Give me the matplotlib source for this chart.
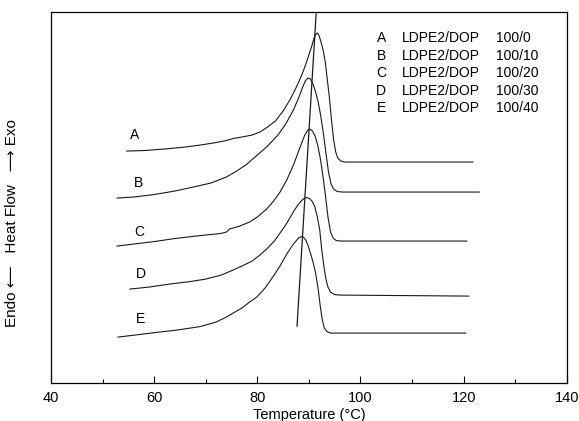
import numpy as np
import matplotlib
matplotlib.use('Agg')
import matplotlib.pyplot as plt

plt.rcParams['font.family'] = ['Liberation Sans', 'DejaVu Sans']

# DSC cooling curves, heat flow in arbitrary units (stacked)
temp_A = [54.7, 58, 62, 66, 69, 72, 74, 75.3, 77, 79, 80.5, 82, 83.5, 85, 86.3, 87.3, 88.2, 89, 89.8,
          90.5, 91.0, 91.4, 91.7, 92.0, 92.4, 92.8, 93.2, 93.6, 94.0, 94.4, 94.8, 95.2, 95.6, 96.2, 97, 121.8]
flow_A = [232, 232.5, 234, 236, 238, 240.5, 242.5, 244.5, 246, 248, 251, 256, 262, 272, 283, 293, 303, 313, 325,
          336, 345, 349, 350, 347, 340, 332, 320, 302, 284, 262, 243, 231, 225, 222, 221, 221]

temp_B = [52.8, 56, 60, 64, 68, 71, 74, 76, 78, 80, 82, 84, 85.5, 87, 88, 88.8, 89.3, 89.8, 90.3,
          90.8, 91.3, 91.8, 92.3, 92.8, 93.3, 93.8, 94.3, 94.8, 95.5, 96.5, 123.0]
flow_B = [185, 186, 188.5, 192, 196.5, 200, 206, 212, 219, 228, 237, 248, 259, 273, 285, 296, 302, 305, 304,
          299, 291, 281, 267, 250, 230, 211, 199, 194, 191.5, 191, 191]

temp_C = [52.8, 56, 60, 64, 68, 72.8, 74.0, 74.6, 76.6, 78.5, 80, 81.8, 83, 84.3, 85.7, 87, 88.3, 89.2,
          89.8, 90.2, 90.7, 91.2, 91.7, 92.2, 92.7, 93.2, 93.7, 94.2, 94.7, 95.3, 96.2, 120.6]
flow_C = [137, 139, 141.5, 144.5, 147, 149.5, 151, 154, 157, 161, 166, 174, 181, 190, 203, 218, 236, 248,
          253, 254, 252, 247, 238, 225, 208, 188, 166, 151, 145, 142.5, 142, 142]

temp_D = [55.3, 59, 63, 67, 70, 73, 75.3, 77, 79, 80.5, 82, 83.3, 84.4, 85.5, 86.4, 87.2, 88, 88.7, 89.2,
          89.6, 90.1, 90.6, 91.1, 91.6, 92.1, 92.5, 92.9, 93.3, 93.7, 94.2, 95, 96, 121.0]
flow_D = [94, 96, 99, 101.5, 104, 108, 113, 117, 122, 128, 135, 142, 150, 158, 166, 173, 179, 183, 185,
          185.5, 184.5, 182, 177, 167, 153, 133, 117, 104, 96, 91, 88.5, 88, 87]

temp_E = [53, 57, 61, 64.4, 68.9, 72, 74, 75.3, 77, 78.5, 79.9, 81.5, 83, 84.5, 85.7, 86.6, 87.3, 88.0,
          88.5, 88.9, 89.4, 89.8, 90.3, 90.8, 91.3, 91.8, 92.2, 92.6, 93.0, 93.5, 94.2, 120.4]
flow_E = [46, 48.5, 51, 53, 56.5, 61, 66, 70, 75, 81, 86, 95, 106, 118, 129, 136, 141, 145,
          146.5, 146, 143, 138, 130, 121, 110, 94, 77, 63, 55, 51.5, 50, 50]

# line through the peak maxima
peak_line_T = [91.4, 87.7]
peak_line_y = [369, 57]

curve_names = ['A', 'B', 'C', 'D', 'E']
label_T = [56.3, 56.9, 57.2, 57.4, 57.4]
label_y = [248, 200, 151, 109, 64]
dop_ratio = ['100/0', '100/10', '100/20', '100/30', '100/40']
legend_y = [345, 327, 310, 292, 275]

fig = plt.figure(figsize=(5.79, 4.21), dpi=100)
ax = fig.add_axes([0.088, 0.090, 0.891, 0.8815])

for T, y in [(temp_A, flow_A), (temp_B, flow_B), (temp_C, flow_C), (temp_D, flow_D), (temp_E, flow_E)]:
    ax.plot(T, y, color='#1a1a1a', lw=0.8)
ax.plot(peak_line_T, peak_line_y, color='#1a1a1a', lw=0.9)

for name, tx, ty in zip(curve_names, label_T, label_y):
    ax.text(tx, ty, name, fontsize=10, ha='center', va='center')

for name, r, ly in zip(curve_names, dop_ratio, legend_y):
    ax.text(104.0, ly, name, fontsize=10, ha='center', va='center')
    ax.text(108.0, ly, 'LDPE2/DOP', fontsize=10, ha='left', va='center')
    ax.text(126.2, ly, r, fontsize=10, ha='left', va='center')

ax.set_xlim(40, 140)
ax.set_ylim(0, 371)
ax.set_xticks(np.arange(40, 141, 20))
ax.set_xticks(np.arange(50, 140, 20), minor=True)
ax.set_yticks([])
ax.tick_params(axis='x', which='major', direction='in', length=5, width=0.8, labelsize=10.5, pad=6)
ax.tick_params(axis='x', which='minor', direction='in', length=3, width=0.8)
for s in ax.spines.values():
    s.set_linewidth(0.9)

ax.set_xlabel('Temperature (°C)', fontsize=10.5, labelpad=2)
ax.set_ylabel('Endo \u27f5   Heat Flow   \u27f6 Exo', fontsize=11)
ax.yaxis.set_label_coords(-0.062, 0.43)

fig.savefig('out.png', dpi=100)
